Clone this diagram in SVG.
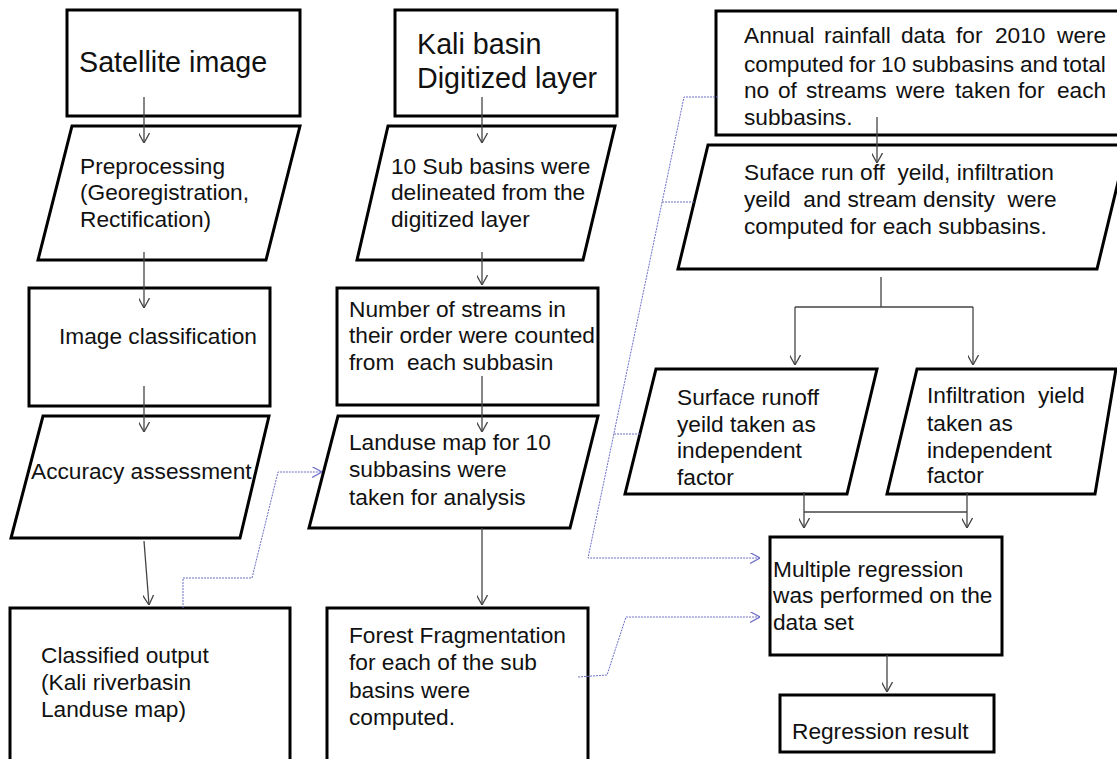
<svg xmlns="http://www.w3.org/2000/svg" width="1117" height="759" viewBox="0 0 1117 759">
<style>
.box{fill:#fff;stroke:#000;stroke-width:3}
.t{font-family:"Liberation Sans",Arial,sans-serif;font-size:22.7px;fill:#111;white-space:pre}
.h{font-size:28.7px}
.ln{stroke:#444;stroke-width:1.3;fill:none}
.bl{stroke:#6f6fc8;stroke-width:1;fill:none;stroke-dasharray:2 1}
</style>
<defs>
<marker id="ah" markerUnits="userSpaceOnUse" markerWidth="10" markerHeight="11" viewBox="0 0 10 11" refX="10" refY="5.5" orient="auto">
<path d="M0,0 L10,5.5 L0,11" fill="none" stroke="#444" stroke-width="1.3"/>
</marker>
<marker id="ab" markerUnits="userSpaceOnUse" markerWidth="10" markerHeight="11" viewBox="0 0 10 11" refX="10" refY="5.5" orient="auto">
<path d="M0,0 L10,5.5 L0,11" fill="none" stroke="#6f6fc8" stroke-width="1.2"/>
</marker>
</defs>
<rect width="1117" height="759" fill="#fff"/>

<g id="satellite">
<rect class="box" x="67" y="10" width="233" height="106"/>
<text class="t h" x="79" y="72">Satellite image</text>
</g>
<g id="preprocessing">
<polygon class="box" points="72,126 300,126 266,260 38,260"/>
<text class="t" x="80" y="174">Preprocessing</text>
<text class="t" x="80" y="200">(Georegistration,</text>
<text class="t" x="80" y="227">Rectification)</text>
</g>
<g id="imageclass">
<rect class="box" x="29" y="288" width="241" height="118"/>
<text class="t" x="59" y="344">Image classification</text>
</g>
<g id="accuracy">
<polygon class="box" points="43,416 269,416 240,538 11,538"/>
<text class="t" x="31" y="479">Accuracy assessment</text>
</g>
<g id="classified">
<rect class="box" x="10" y="608" width="280" height="170"/>
<text class="t" x="41" y="663">Classified output</text>
<text class="t" x="41" y="690">(Kali riverbasin</text>
<text class="t" x="41" y="717">Landuse map)</text>
</g>

<g id="kali">
<rect class="box" x="395" y="10" width="222" height="106"/>
<text class="t h" x="417" y="54">Kali basin</text>
<text class="t h" x="417" y="88">Digitized layer</text>
</g>
<g id="subbasins">
<polygon class="box" points="388,126 615,126 583,260 357,260"/>
<text class="t" x="391" y="174">10 Sub basins were</text>
<text class="t" x="391" y="200">delineated from the</text>
<text class="t" x="391" y="227">digitized layer</text>
</g>
<g id="streams">
<rect class="box" x="337" y="288" width="261" height="117"/>
<text class="t" x="349" y="317">Number of streams in</text>
<text class="t" x="349" y="343">their order were counted</text>
<text class="t" x="349" y="370">from  each subbasin</text>
</g>
<g id="landuse">
<polygon class="box" points="338,416 598,416 570,528 309,528"/>
<text class="t" x="349" y="450">Landuse map for 10</text>
<text class="t" x="349" y="477">subbasins were</text>
<text class="t" x="349" y="505">taken for analysis</text>
</g>
<g id="forest">
<rect class="box" x="327" y="608" width="261" height="170"/>
<text class="t" x="349" y="643">Forest Fragmentation</text>
<text class="t" x="349" y="670">for each of the sub</text>
<text class="t" x="349" y="698">basins were</text>
<text class="t" x="349" y="725">computed.</text>
</g>

<g id="rainfall">
<rect class="box" x="716" y="11" width="420" height="124"/>
<text class="t" y="43"><tspan x="744">Annual</tspan><tspan x="824">rainfall</tspan><tspan x="901">data</tspan><tspan x="956">for</tspan><tspan x="995">2010</tspan><tspan x="1057">were</tspan></text>
<text class="t" y="72"><tspan x="744">computed</tspan><tspan x="849">for</tspan><tspan x="881">10</tspan><tspan x="912">subbasins</tspan><tspan x="1020">and</tspan><tspan x="1063">total</tspan></text>
<text class="t" y="98"><tspan x="744">no</tspan><tspan x="778">of</tspan><tspan x="806">streams</tspan><tspan x="896">were</tspan><tspan x="955">taken</tspan><tspan x="1018">for</tspan><tspan x="1057">each</tspan></text>
<text class="t" x="744" y="125">subbasins.</text>
</g>
<g id="runoffyield">
<polygon class="box" points="708,145 1127,145 1097,269 678,269"/>
<text class="t" x="744" y="180">Suface run off  yeild, infiltration</text>
<text class="t" x="744" y="207">yeild  and stream density  were</text>
<text class="t" x="744" y="234">computed for each subbasins.</text>
</g>
<g id="surfacerunoff">
<polygon class="box" points="656,369 877,369 847,494 625,494"/>
<text class="t" x="677" y="405">Surface runoff</text>
<text class="t" x="677" y="432">yeild taken as</text>
<text class="t" x="677" y="458">independent</text>
<text class="t" x="677" y="485">factor</text>
</g>
<g id="infiltration">
<polygon class="box" points="917,369 1116,369 1095,494 887,494"/>
<text class="t" x="927" y="403">Infiltration  yield</text>
<text class="t" x="927" y="431">taken as</text>
<text class="t" x="927" y="458">independent</text>
<text class="t" x="927" y="483">factor</text>
</g>
<g id="regression">
<rect class="box" x="770" y="537" width="232" height="118"/>
<text class="t" x="773" y="577">Multiple regression</text>
<text class="t" x="773" y="603">was performed on the</text>
<text class="t" x="773" y="630">data set</text>
</g>
<g id="result">
<rect class="box" x="780" y="695" width="214" height="57"/>
<text class="t" x="792" y="739">Regression result</text>
</g>

<g id="connectors">
<line class="ln" x1="144" y1="97" x2="144" y2="143" marker-end="url(#ah)"/>
<line class="ln" x1="144" y1="252" x2="144" y2="308" marker-end="url(#ah)"/>
<line class="ln" x1="144" y1="386" x2="144" y2="432" marker-end="url(#ah)"/>
<line class="ln" x1="144" y1="541" x2="149" y2="605" marker-end="url(#ah)"/>
<line class="ln" x1="482" y1="97" x2="482" y2="143" marker-end="url(#ah)"/>
<line class="ln" x1="482" y1="252" x2="482" y2="285" marker-end="url(#ah)"/>
<line class="ln" x1="482" y1="376" x2="482" y2="432" marker-end="url(#ah)"/>
<line class="ln" x1="482" y1="528" x2="482" y2="605" marker-end="url(#ah)"/>
<line class="ln" x1="877" y1="117" x2="877" y2="163" marker-end="url(#ah)"/>
<path class="ln" d="M881,277 V307 M795,307 H973"/>
<line class="ln" x1="795" y1="307" x2="795" y2="365" marker-end="url(#ah)"/>
<line class="ln" x1="973" y1="307" x2="973" y2="365" marker-end="url(#ah)"/>
<line class="ln" x1="804" y1="492" x2="804" y2="528" marker-end="url(#ah)"/>
<line class="ln" x1="967" y1="492" x2="967" y2="528" marker-end="url(#ah)"/>
<path class="ln" d="M804,512 H967"/>
<line class="ln" x1="887" y1="655" x2="887" y2="692" marker-end="url(#ah)"/>
<path class="bl" d="M183,608 V578 H252 L278,472 H322" marker-end="url(#ab)"/>
<path class="bl" d="M718,97 H684 L588,558 H760" marker-end="url(#ab)"/>
<path class="bl" d="M662,202 H694 M614,434 H640"/>
<path class="bl" d="M578,677 L607,675 L626,617 H760" marker-end="url(#ab)"/>
</g>
</svg>
